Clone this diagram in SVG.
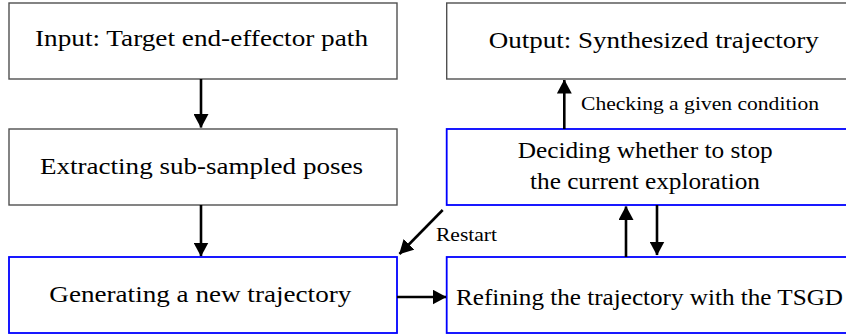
<svg xmlns="http://www.w3.org/2000/svg" width="846" height="335" viewBox="0 0 846 335">
  <style>
    .box { fill: #ffffff; stroke: #505050; stroke-width: 1.4; }
    .blue { fill: #ffffff; stroke: #0000ff; stroke-width: 1.8; }
    text { font-family: 'Liberation Serif', 'Times New Roman', 'DejaVu Serif', serif; fill: #000000; }
    .t { font-size: 24px; }
    .lbl { font-size: 18.5px; }
    .arr { stroke: #000000; stroke-width: 2.6; fill: none; marker-end: url(#head); }
  </style>
  <defs>
    <marker id="head" markerUnits="userSpaceOnUse" viewBox="0 0 14 15" markerWidth="14" markerHeight="15" refX="13.5" refY="7.5" orient="auto">
      <path d="M0,0 L14,7.5 L0,15 z" fill="#000000"/>
    </marker>
  </defs>

  <rect width="846" height="335" fill="#ffffff"/>

  <!-- left column -->
  <g id="input">
    <rect class="box" x="9" y="3" width="388" height="76"/>
    <text class="t" x="35" y="45.7" textLength="333" lengthAdjust="spacingAndGlyphs">Input: Target end-effector path</text>
  </g>
  <g id="extract">
    <rect class="box" x="9" y="129" width="388" height="76"/>
    <text class="t" x="40" y="174" textLength="323" lengthAdjust="spacingAndGlyphs">Extracting sub-sampled poses</text>
  </g>
  <g id="generate">
    <rect class="blue" x="9" y="257" width="388" height="76"/>
    <text class="t" x="49.3" y="301.7" textLength="302" lengthAdjust="spacingAndGlyphs">Generating a new trajectory</text>
  </g>

  <!-- right column (boxes run off the right edge) -->
  <g id="output">
    <rect class="box" x="446.7" y="3" width="410" height="76"/>
    <text class="t" x="488.7" y="48.3" textLength="330" lengthAdjust="spacingAndGlyphs">Output: Synthesized trajectory</text>
  </g>
  <g id="decide">
    <rect class="blue" x="446.7" y="129" width="410" height="76"/>
    <text class="t" x="517.7" y="158.3" textLength="255" lengthAdjust="spacingAndGlyphs">Deciding whether to stop</text>
    <text class="t" x="530" y="189.3" textLength="230" lengthAdjust="spacingAndGlyphs">the current exploration</text>
  </g>
  <g id="refine">
    <rect class="blue" x="446.7" y="257" width="410" height="76"/>
    <text class="t" x="456" y="305" textLength="387" lengthAdjust="spacingAndGlyphs">Refining the trajectory with the TSGD</text>
  </g>

  <!-- connectors -->
  <g id="connectors">
    <line class="arr" x1="201" y1="79" x2="201" y2="127.5"/>
    <line class="arr" x1="201" y1="205" x2="201" y2="256"/>
    <line class="arr" x1="397" y1="297" x2="446" y2="297"/>
    <line class="arr" x1="564.3" y1="129" x2="564.3" y2="80"/>
    <line class="arr" x1="626" y1="257" x2="626" y2="206.5"/>
    <line class="arr" x1="657" y1="205" x2="657" y2="255"/>
    <line class="arr" x1="442.7" y1="210" x2="399.5" y2="254"/>
    <text class="lbl" x="581" y="110" textLength="238" lengthAdjust="spacingAndGlyphs">Checking a given condition</text>
    <text class="lbl" x="436" y="240.7" textLength="61" lengthAdjust="spacingAndGlyphs">Restart</text>
  </g>
</svg>
